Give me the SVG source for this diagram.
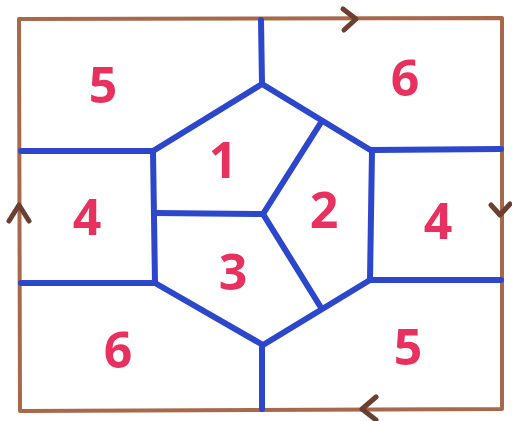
<svg xmlns="http://www.w3.org/2000/svg" width="512" height="421" viewBox="0 0 512 421">
<style>
.frame{fill:none;stroke:#a8694a;stroke-width:4;stroke-linecap:round;stroke-linejoin:round}
.arr{fill:none;stroke:#6b4030;stroke-width:5;stroke-linecap:round;stroke-linejoin:round}
.edge{fill:none;stroke:#2c46cc;stroke-width:6;stroke-linecap:round;stroke-linejoin:round}
.lbl{font-family:"Open Sans","Liberation Sans",sans-serif;font-weight:700;font-size:50px;fill:#e8315f;text-anchor:middle}
</style>
<rect width="512" height="421" fill="#ffffff"/>
<g id="frame">
<path class="frame" d="M19 19 L502 18 L502 409 L20 411 Z"/>
<path class="arr" d="M343 9 L356 19 L344 30"/>
<path class="arr" d="M491 205 L500 215 L510 204"/>
<path class="arr" d="M9 221 L19 205 L29 221"/>
<path class="arr" d="M376 397 L362 409 L376 420"/>
</g>
<g id="connectors">
<path class="edge" d="M261 20 L262 84"/>
<path class="edge" d="M262 84 L372 151 L370 280 L263 345 L155 283 L153 151 Z"/>
<path class="edge" d="M21 151 L153 151"/>
<path class="edge" d="M372 150 L501 149"/>
<path class="edge" d="M21 283 L155 283"/>
<path class="edge" d="M370 280 L501 280"/>
<path class="edge" d="M262 345 L262 409"/>
<path class="edge" d="M155 213 L263 214 L320 124"/>
<path class="edge" d="M263 214 L320 306"/>
</g>
<g id="r5a"><text class="lbl" x="103" y="103">5</text></g>
<g id="r6a"><text class="lbl" x="405" y="96">6</text></g>
<g id="r1"><text class="lbl" x="223" y="178">1</text></g>
<g id="r4a"><text class="lbl" x="87" y="235">4</text></g>
<g id="r2"><text class="lbl" x="324" y="228">2</text></g>
<g id="r4b"><text class="lbl" x="438" y="239">4</text></g>
<g id="r3"><text class="lbl" x="233" y="290">3</text></g>
<g id="r6b"><text class="lbl" x="118" y="368">6</text></g>
<g id="r5b"><text class="lbl" x="408" y="365">5</text></g>
</svg>
